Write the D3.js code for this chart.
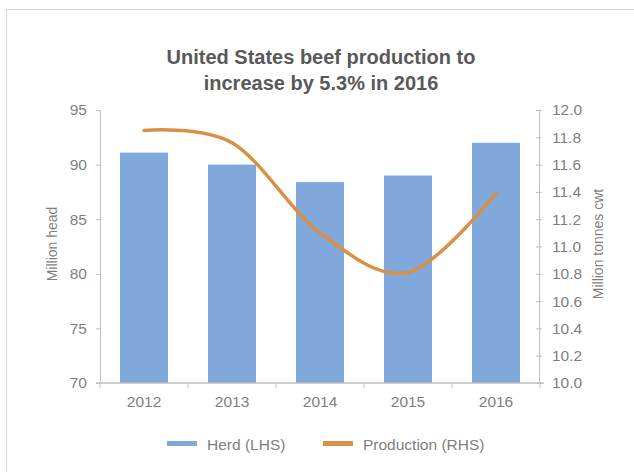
<!DOCTYPE html>
<html>
<head>
<meta charset="utf-8">
<script src="https://cdn.jsdelivr.net/npm/d3@7"></script>
<style>
  body { margin: 0; background: #fff; }
  svg { display: block; font-family: "Liberation Sans", Arial, sans-serif; }
</style>
</head>
<body>
<div id="chart"></div>
<script>
const years = ["2012", "2013", "2014", "2015", "2016"];
const herd = [91.1, 90.0, 88.4, 89.0, 92.0];
const production = [11.85, 11.76, 11.1, 10.81, 11.39];
const leftTicks = [70, 75, 80, 85, 90, 95];
const rightTicks = [10.0, 10.2, 10.4, 10.6, 10.8, 11.0, 11.2, 11.4, 11.6, 11.8, 12.0];

const W = 634, H = 472;
const barColor = "#80a8da";
const lineColor = "#d98f45";
const axisColor = "#bfbfbf";
const textColor = "#7f7f7f";

const svg = d3.select("#chart").append("svg")
  .attr("width", W)
  .attr("height", H);

// outer frame (runs off the right and bottom edges)
svg.append("rect")
  .attr("x", 6.5).attr("y", 9.5)
  .attr("width", W).attr("height", H)
  .attr("fill", "none")
  .attr("stroke", "#d9d9d9");

const x = d3.scaleBand()
  .domain(years)
  .range([100, 540])
  .paddingInner(0.4545)
  .paddingOuter(0.2273);

const yL = d3.scaleLinear().domain([70, 95]).range([383, 110]);
const yR = d3.scaleLinear().domain([10, 12]).range([383, 110]);

// title
const title = svg.append("text")
  .attr("text-anchor", "middle")
  .attr("fill", "#595959")
  .style("font-size", "20px")
  .style("font-weight", "bold");
title.append("tspan").attr("x", 321).attr("y", 64).text("United States beef production to");
title.append("tspan").attr("x", 321).attr("y", 90).text("increase by 5.3% in 2016");

// bars
svg.append("g").selectAll("rect")
  .data(years)
  .join("rect")
  .attr("x", d => x(d))
  .attr("y", (d, i) => yL(herd[i]))
  .attr("width", x.bandwidth())
  .attr("height", (d, i) => yL(70) - yL(herd[i]))
  .attr("fill", barColor);

// left axis
const gL = svg.append("g")
  .attr("transform", "translate(100,0)")
  .call(d3.axisLeft(yL).tickValues(leftTicks).tickSize(4).tickPadding(9));
gL.select(".domain").attr("stroke", axisColor);
gL.selectAll(".tick line").attr("stroke", axisColor);
gL.selectAll(".tick text").attr("fill", textColor).style("font-size", "15.5px");

// right axis
const gR = svg.append("g")
  .attr("transform", "translate(539,0)")
  .call(d3.axisRight(yR).tickValues(rightTicks).tickFormat(d3.format(".1f")).tickSize(3).tickPadding(10));
gR.select(".domain").attr("stroke", axisColor);
gR.selectAll(".tick line").attr("stroke", axisColor).attr("x1", -3);
gR.selectAll(".tick text").attr("fill", textColor).style("font-size", "15.5px");

// x axis
const gX = svg.append("g")
  .attr("transform", "translate(0,383)")
  .call(d3.axisBottom(x).tickSize(0).tickPadding(13).tickSizeOuter(0));
gX.select(".domain").remove();
gX.selectAll(".tick text").attr("fill", textColor).style("font-size", "15.5px");
gX.append("line")
  .attr("x1", x.range()[0] - 4).attr("x2", x.range()[1] + 4)
  .attr("stroke", axisColor).attr("stroke-width", 1.5);
const bounds = d3.range(years.length + 1).map(i => x.range()[0] + i * x.step());
gX.selectAll(".bound")
  .data(bounds)
  .join("line")
  .attr("class", "bound")
  .attr("x1", d => d).attr("x2", d => d)
  .attr("y1", 0).attr("y2", 5)
  .attr("stroke", axisColor);

// axis titles
svg.append("text")
  .attr("transform", "translate(57,244) rotate(-90)")
  .attr("text-anchor", "middle")
  .attr("fill", textColor)
  .style("font-size", "14px")
  .text("Million head");
svg.append("text")
  .attr("transform", "translate(603,244) rotate(-90)")
  .attr("text-anchor", "middle")
  .attr("fill", textColor)
  .style("font-size", "14px")
  .text("Million tonnes cwt");

// production line
const line = d3.line()
  .x((d, i) => x(years[i]) + x.bandwidth() / 2)
  .y(d => yR(d))
  .curve(d3.curveCardinal.tension(0));
svg.append("path")
  .datum(production)
  .attr("fill", "none")
  .attr("stroke", lineColor)
  .attr("stroke-width", 3.5)
  .attr("stroke-linecap", "round")
  .attr("d", line);

// legend
const legend = [
  { name: "Herd (LHS)", color: barColor, x: 167 },
  { name: "Production (RHS)", color: lineColor, x: 323 }
];
const lg = svg.append("g");
legend.forEach(l => {
  lg.append("rect")
    .attr("x", l.x).attr("y", 441)
    .attr("width", 30).attr("height", 5)
    .attr("fill", l.color);
  lg.append("text")
    .attr("x", l.x + 40).attr("y", 450)
    .attr("fill", textColor)
    .style("font-size", "15.5px")
    .text(l.name);
});
</script>
</body>
</html>
